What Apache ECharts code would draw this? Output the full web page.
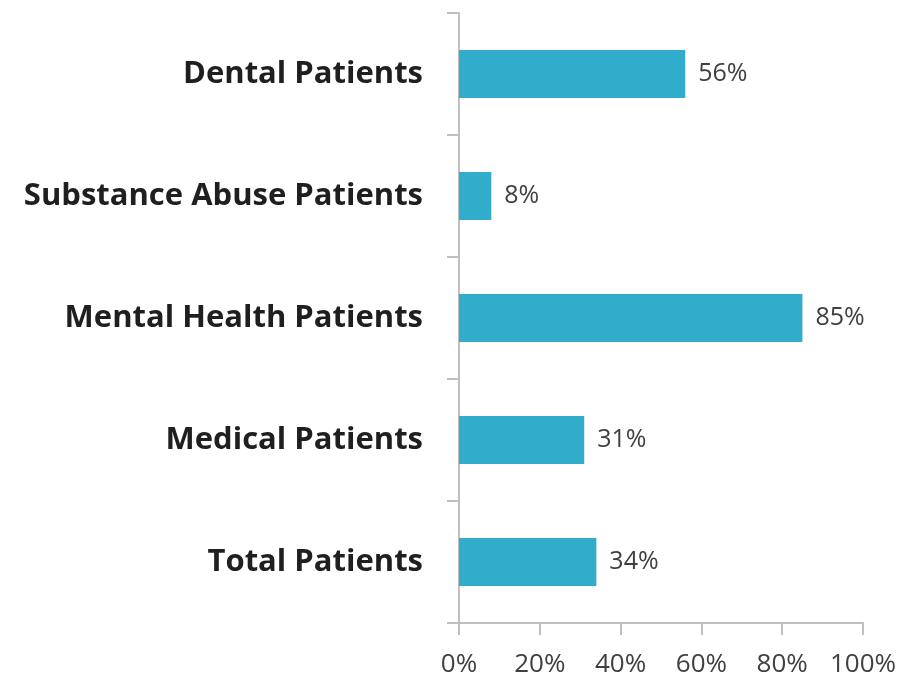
<!DOCTYPE html>
<html><head><meta charset="utf-8">
<script src="https://cdn.jsdelivr.net/npm/echarts@6/dist/echarts.min.js"></script>
<style>html,body{margin:0;padding:0;background:#fff}#c{width:904px;height:678px}</style>
</head><body><div id="c"></div>
<script>
const categories = ["Total Patients", "Medical Patients", "Mental Health Patients", "Substance Abuse Patients", "Dental Patients"];
const values = [34, 31, 85, 8, 56];
const xTicks = [0, 20, 40, 60, 80, 100];

const chart = echarts.init(document.getElementById('c'));
chart.setOption({
  animation: false,
  grid: { left: 459, right: 41, top: 13, bottom: 55, containLabel: false },
  xAxis: {
    type: 'value', min: xTicks[0], max: xTicks[xTicks.length - 1], interval: xTicks[1] - xTicks[0],
    axisLine: { show: true, lineStyle: { color: '#bfbfbf', width: 2 } },
    axisTick: { show: true, length: 12, lineStyle: { color: '#bfbfbf', width: 2 } },
    splitLine: { show: false },
    axisLabel: { formatter: v => v + '%', margin: 29, color: '#404040', fontSize: 26, fontFamily: 'Open Sans' }
  },
  yAxis: {
    type: 'category', data: categories,
    axisLine: { show: true, lineStyle: { color: '#bfbfbf', width: 2 } },
    axisTick: { show: true, length: 12, lineStyle: { color: '#bfbfbf', width: 2 } },
    axisLabel: { margin: 36, color: '#1f1f1f', fontSize: 31, fontWeight: 'bold', fontFamily: 'Open Sans' }
  },
  series: [{
    type: 'bar', data: values, barWidth: 48,
    itemStyle: { color: '#31acca' },
    label: { show: true, position: 'right', distance: 13, formatter: p => p.value + '%', color: '#404040', fontSize: 25, fontFamily: 'Open Sans' }
  }]
});
</script></body></html>
